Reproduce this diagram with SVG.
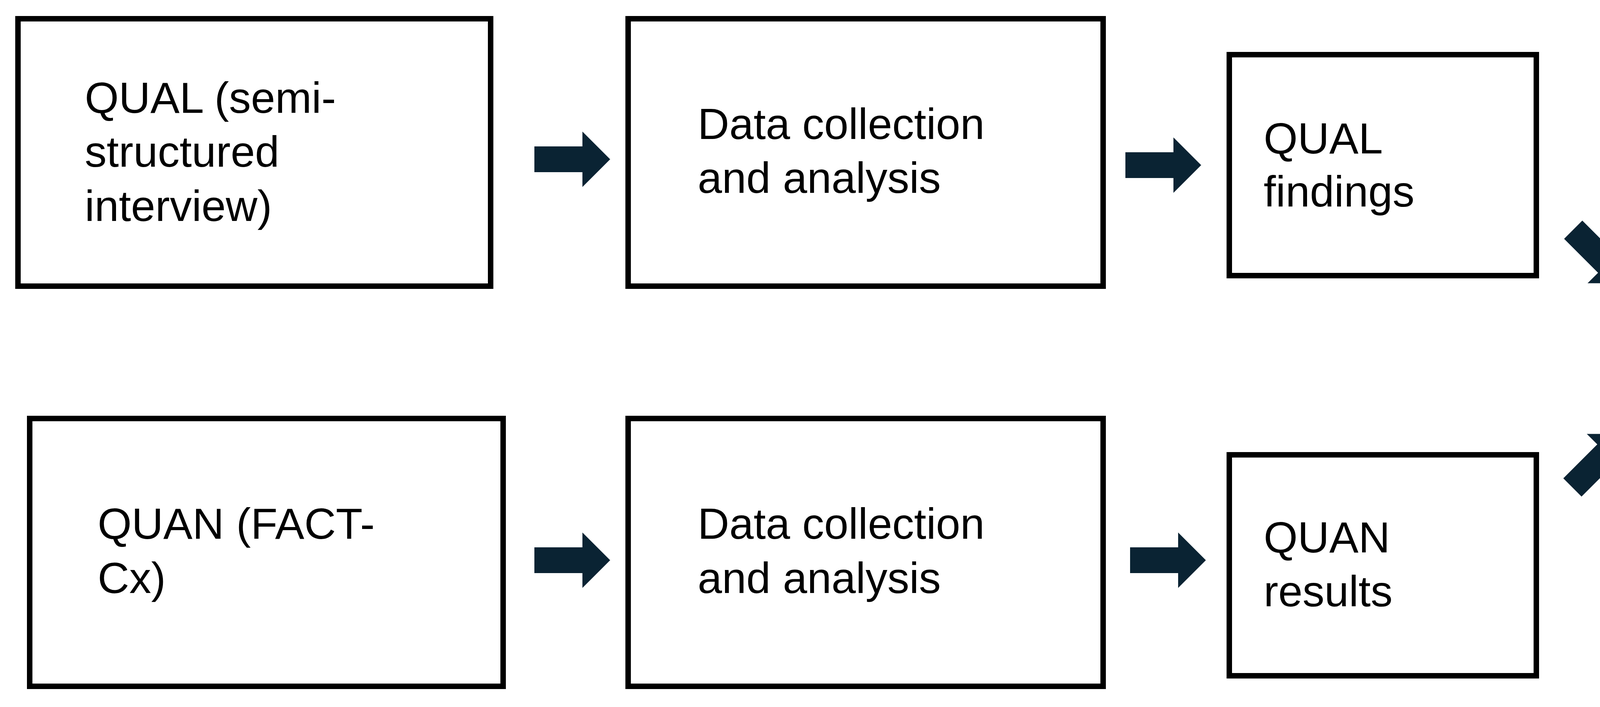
<svg xmlns="http://www.w3.org/2000/svg" width="6967" height="1811" viewBox="0 0 6967 1811">
<style>
.b{fill:#fff;stroke:#000;stroke-width:14}
.t{font-family:"Liberation Sans",Arial,sans-serif;font-size:112px;fill:#000}
.a{fill:#0a2333}
</style>
<defs><path id="arr" d="M-97,-33 H26 V-71 L97,0 L26,71 V33 H-97 Z"/></defs>
<rect width="6967" height="1811" fill="#fff"/>
<g id="n1"><rect class="b" x="46" y="48" width="1210" height="685"/><text class="t" x="217" y="289">QUAL (semi-</text><text class="t" x="217" y="427">structured</text><text class="t" x="217" y="566">interview)</text></g>
<g id="n2"><rect class="b" x="1608" y="48" width="1216" height="685"/><text class="t" x="1786" y="356">Data collection</text><text class="t" x="1786" y="494">and analysis</text></g>
<g id="n3"><rect class="b" x="3147" y="140" width="786" height="566"/><text class="t" x="3235" y="393">QUAL</text><text class="t" x="3235" y="529">findings</text></g>
<g id="n4"><rect class="b" x="76" y="1072" width="1212" height="686"/><text class="t" x="250" y="1380">QUAN (FACT-</text><text class="t" x="250" y="1519">Cx)</text></g>
<g id="n5"><rect class="b" x="1608" y="1072" width="1216" height="686"/><text class="t" x="1786" y="1380">Data collection</text><text class="t" x="1786" y="1519">and analysis</text></g>
<g id="n6"><rect class="b" x="3147" y="1165" width="786" height="566"/><text class="t" x="3235" y="1415">QUAN</text><text class="t" x="3235" y="1553">results</text></g>
<g id="n7"><ellipse class="b" cx="4842" cy="934" rx="584" ry="346"/><text class="t" x="4458" y="895">Merge/compare</text><text class="t" x="4458" y="1034">results</text></g>
<g id="n8"><ellipse class="b" cx="6340" cy="946" rx="585" ry="347"/><text class="t" x="6084" y="982">Interpret</text></g>
<g id="connectors" class="a">
<use href="#arr" transform="translate(1465,408)"/>
<use href="#arr" transform="translate(2978,423)"/>
<use href="#arr" transform="translate(1465,1435)"/>
<use href="#arr" transform="translate(2990,1435)"/>
<use href="#arr" transform="translate(5588,943)"/>
<use href="#arr" transform="translate(4096,657) rotate(45)"/>
<use href="#arr" transform="translate(4094,1180) rotate(-45)"/>
</g>
</svg>
